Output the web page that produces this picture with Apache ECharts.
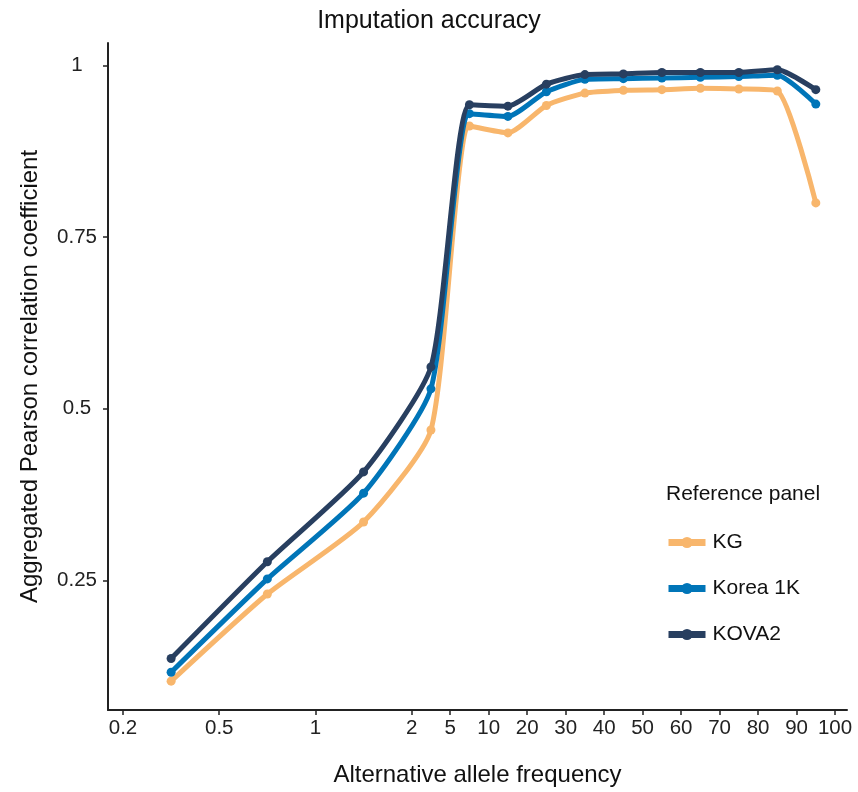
<!DOCTYPE html>
<html>
<head>
<meta charset="utf-8">
<script src="https://cdn.jsdelivr.net/npm/echarts@6/dist/echarts.min.js"></script>
<style>
  html, body { margin: 0; padding: 0; background: #fff; }
  #chart { width: 858px; height: 792px; }
</style>
</head>
<body>
<div id="chart"></div>
<script>
// allele frequency bins (%), midpoints
var freqMid = [0.35, 0.75, 1.5, 3.5, 7.5, 15, 25, 35, 45, 55, 65, 75, 85, 95];
// x tick labels (%)
var freqTicks = [0.2, 0.5, 1, 2, 5, 10, 20, 30, 40, 50, 60, 70, 80, 90, 100];
var yTicks = [0.25, 0.5, 0.75, 1];

var seriesNames = ['KG', 'Korea 1K', 'KOVA2'];
var kg      = [0.103, 0.230, 0.335, 0.469, 0.912, 0.902, 0.942, 0.960, 0.964, 0.965, 0.967, 0.966, 0.963, 0.800];
var korea1k = [0.116, 0.252, 0.377, 0.529, 0.930, 0.926, 0.962, 0.980, 0.981, 0.982, 0.983, 0.984, 0.986, 0.944];
var kova2   = [0.136, 0.277, 0.408, 0.561, 0.943, 0.941, 0.973, 0.987, 0.988, 0.990, 0.990, 0.990, 0.994, 0.965];

var colors = ['#F8B66C', '#0075B8', '#283F60'];

// the axis is not a true scale: first three tick gaps are wide, the rest evenly spaced
var tickPos = [];
(function () {
    var t = 0;
    for (var i = 0; i < freqTicks.length; i++) {
        tickPos.push(t);
        t += (i < 3) ? 2.5 : 1;
    }
})();

function freqToPos(f) {
    for (var i = 0; i < freqTicks.length - 1; i++) {
        if (f >= freqTicks[i] && f <= freqTicks[i + 1]) {
            var r = (f - freqTicks[i]) / (freqTicks[i + 1] - freqTicks[i]);
            return tickPos[i] + r * (tickPos[i + 1] - tickPos[i]);
        }
    }
    return 0;
}

function posToLabel(v) {
    for (var i = 0; i < tickPos.length; i++) {
        if (Math.abs(tickPos[i] - v) < 1e-6) return String(freqTicks[i]);
    }
    return '';
}

function toPoints(vals) {
    return freqMid.map(function (f, i) { return [freqToPos(f), vals[i]]; });
}

var allVals = [kg, korea1k, kova2];
var font = 'Liberation Sans, Arial, sans-serif';

var chart = echarts.init(document.getElementById('chart'));
chart.setOption({
    animation: false,
    color: colors,
    title: [{
        text: 'Imputation accuracy',
        left: 'center',
        top: 4,
        textStyle: { fontFamily: font, fontSize: 25, fontWeight: 'normal', color: '#111' }
    }, {
        text: 'Reference panel',
        left: 661,
        top: 479,
        textStyle: { fontFamily: font, fontSize: 21, fontWeight: 'normal', color: '#111' }
    }],
    grid: { left: 108, right: 11, top: 43, bottom: 80 },
    legend: {
        orient: 'vertical',
        left: 665,
        top: 532,
        padding: 0,
        itemWidth: 37,
        itemHeight: 14,
        itemGap: 25,
        data: seriesNames,
        textStyle: { fontFamily: font, fontSize: 21, color: '#111', padding: [0, 0, 0, 2] },
        lineStyle: { width: 7 }
    },
    xAxis: {
        type: 'value',
        min: -0.39,
        max: 18.81,
        name: 'Alternative allele frequency',
        nameLocation: 'middle',
        nameGap: 53,
        nameTextStyle: { fontFamily: font, fontSize: 24, color: '#111' },
        splitLine: { show: false },
        axisLine: { show: true, onZero: false, lineStyle: { color: '#222', width: 2 } },
        axisTick: { show: true, length: 5, customValues: tickPos, lineStyle: { color: '#222', width: 1.5 } },
        axisLabel: {
            customValues: tickPos,
            formatter: posToLabel,
            margin: 8,
            fontFamily: font,
            fontSize: 20.5,
            color: '#222'
        }
    },
    yAxis: {
        type: 'value',
        min: 0.061,
        max: 1.033,
        name: 'Aggregated Pearson correlation coefficient',
        nameLocation: 'middle',
        nameGap: 66,
        nameTextStyle: { fontFamily: font, fontSize: 24, color: '#111' },
        splitLine: { show: false },
        axisLine: { show: true, onZero: false, lineStyle: { color: '#222', width: 2 } },
        axisTick: { show: true, length: 5, customValues: yTicks, lineStyle: { color: '#222', width: 1.5 } },
        axisLabel: {
            customValues: yTicks,
            formatter: function (v) { return String(v); },
            align: 'center',
            margin: 31,
            fontFamily: font,
            fontSize: 20.5,
            color: '#222'
        }
    },
    series: seriesNames.map(function (name, i) {
        return {
            name: name,
            type: 'line',
            data: toPoints(allVals[i]),
            smooth: 0.2,
            symbol: 'circle',
            symbolSize: 9,
            lineStyle: { width: 5, color: colors[i] },
            itemStyle: { color: colors[i] },
            z: 2 + i
        };
    })
});
</script>
</body>
</html>
